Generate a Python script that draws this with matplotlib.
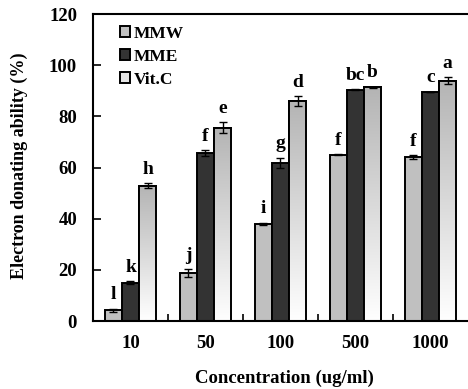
import matplotlib
matplotlib.use("Agg")
import matplotlib.pyplot as plt
import numpy as np
from matplotlib.colors import LinearSegmentedColormap

categories = ["10", "50", "100", "500", "1000"]
series = ["MMW", "MME", "Vit.C"]
mmw = [4.2, 18.7, 38.0, 64.9, 64.0]
mme = [15.0, 65.6, 61.7, 90.4, 89.6]
vitc = [52.9, 75.5, 86.0, 91.3, 93.9]
mmw_err = [0.5, 1.6, 0.3, 0.2, 0.8]
mme_err = [0.6, 1.2, 2.0, 0.1, 0.1]
vitc_err = [1.0, 2.2, 1.8, 0.2, 1.4]
mmw_lab = ["l", "j", "i", "f", "f"]
mme_lab = ["k", "f", "g", "bc", "c"]
vitc_lab = ["h", "e", "d", "b", "a"]

plt.rcParams['font.family'] = ['Liberation Serif', 'DejaVu Serif']
plt.rcParams['font.weight'] = 'bold'

fig = plt.figure(figsize=(4.68, 3.89), dpi=100)
ax = fig.add_axes([0.1987, 0.1748, 0.8013, 0.7892])

x = np.arange(len(categories))
w = 0.227
vals = [mmw, mme, vitc]
errs = [mmw_err, mme_err, vitc_err]
labs = [mmw_lab, mme_lab, vitc_lab]
colors = ['#c0c0c0', '#333333', '#e6e6e6']

grad = np.linspace(0, 1, 256).reshape(-1, 1)
cmap = LinearSegmentedColormap.from_list('g', ['#ffffff', '#b4b4b4'])

for i in range(3):
    pos = x + (i - 1) * w
    bars = ax.bar(pos, vals[i], w, color=colors[i], edgecolor='black', linewidth=1.4,
                  label=series[i], zorder=2)
    if i == 2:
        for b in bars:
            bx, by = b.get_x(), b.get_y()
            bw, bh = b.get_width(), b.get_height()
            im = ax.imshow(grad, extent=[bx, bx + bw, by, by + bh], origin='lower',
                           cmap=cmap, aspect='auto', zorder=2.1)
            im.set_clip_path(b)
            ax.bar(bx + bw / 2, bh, bw, fill=False, edgecolor='black', linewidth=1.4, zorder=2.2)
    ax.errorbar(pos, vals[i], yerr=errs[i], fmt='none', ecolor='black', elinewidth=1,
                capsize=3, capthick=1, zorder=3)
    for p, v, e, t in zip(pos, vals[i], errs[i], labs[i]):
        ax.annotate(t, (p, v + e), xytext=(0, 4), textcoords='offset points',
                    ha='center', va='bottom', fontsize=14, fontweight='bold')

ax.set_xlim(-0.5, 4.5)
ax.set_ylim(0, 120)
ax.set_yticks(range(0, 121, 20))
ax.set_xticks(x)
ax.set_xticklabels(categories)
ax.set_xticks(np.arange(0.5, 4.5, 1), minor=True)
ax.tick_params(axis='x', which='major', length=0, pad=10, labelsize=13.5)
ax.tick_params(axis='x', which='minor', direction='in', length=5, width=1.2)
ax.tick_params(axis='y', direction='in', length=6, width=1.2, labelsize=13.5, pad=11.5)
for t in ax.get_xticklabels() + ax.get_yticklabels():
    t.set_fontweight('bold')
for s in ['left', 'bottom', 'top']:
    ax.spines[s].set_linewidth(1.5)
ax.spines['right'].set_visible(False)

ax.set_ylabel('Electron donating ability (%)', fontsize=13, fontweight='bold')
ax.set_xlabel('Concentration (ug/ml)', fontsize=13.5, fontweight='bold')
ax.yaxis.set_label_coords(-0.173, 0.505)
ax.xaxis.set_label_coords(0.51, -0.16)

handles, labels = ax.get_legend_handles_labels()
leg = ax.legend(handles[:3], labels[:3], loc='upper left', bbox_to_anchor=(0.03, 1.013),
                frameon=False, handlelength=0.6, handleheight=0.6, handletextpad=0.2,
                labelspacing=0.4, prop={'weight': 'bold', 'size': 12.5})

fig.savefig('out.png', dpi=100)
